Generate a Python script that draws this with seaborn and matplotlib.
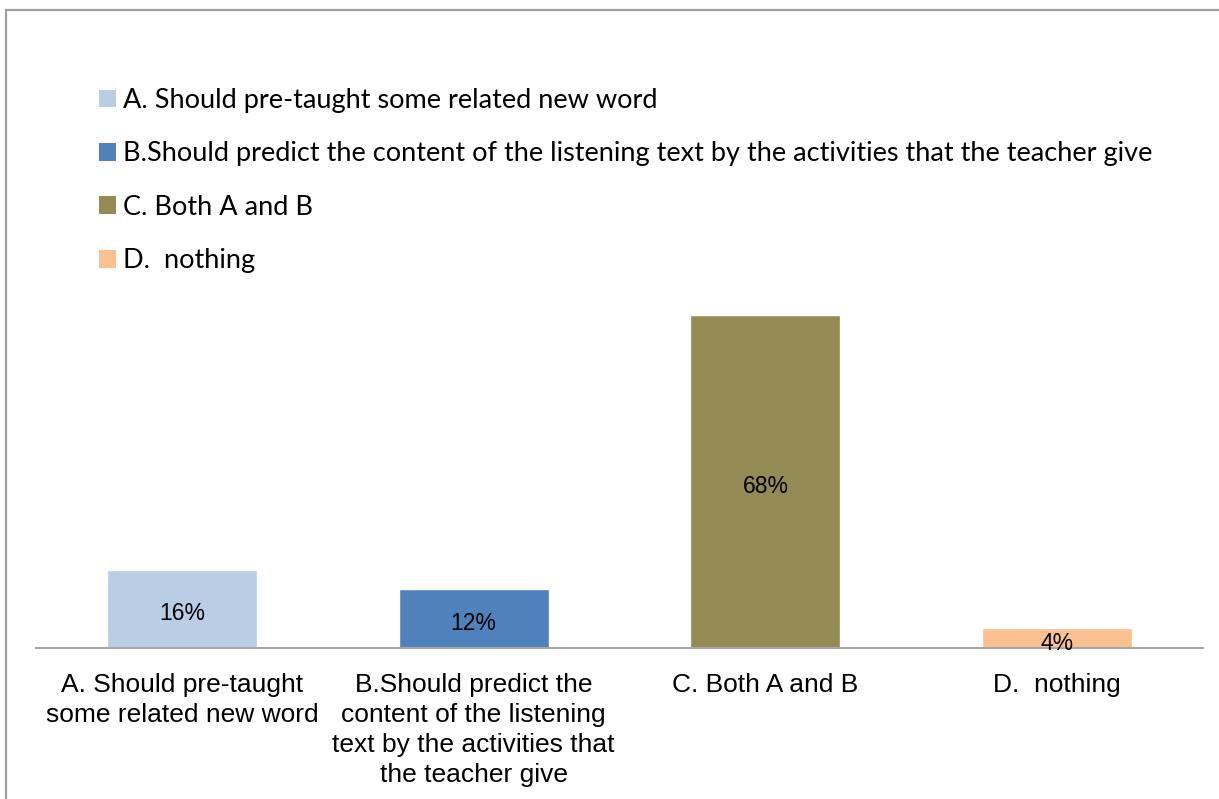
import matplotlib
matplotlib.use("Agg")
import matplotlib.pyplot as plt
from matplotlib.patches import Patch, Rectangle
import seaborn as sns

# Survey answers and their shares (%)
categories = [
    "A. Should pre-taught some related new word",
    "B.Should predict the content of the listening text by the activities that the teacher give",
    "C. Both A and B",
    "D.  nothing",
]
tick_labels = [
    "A. Should pre-taught\nsome related new word",
    "B.Should predict the\ncontent of the listening\ntext by the activities that\nthe teacher give",
    "C. Both A and B",
    "D.  nothing",
]
values = [16, 12, 68, 4]
value_labels = ["16%", "12%", "68%", "4%"]
colors = ["#B9CDE5", "#4F81BD", "#948A54", "#FAC090"]

sns.set_theme(style="white")
plt.rcParams["font.family"] = ["Liberation Sans", "DejaVu Sans"]
plt.rcParams["text.color"] = "black"
plt.rcParams["xtick.color"] = "black"

W, H = 1219, 799
fig = plt.figure(figsize=(W / 100, H / 100), dpi=100)

# axes placed in pixel terms: baseline at y=648, 68% bar top at y=315
base_px = 648
top_val = 70
px_per_unit = (648 - 315) / 68
ax_h = top_val * px_per_unit
ax = fig.add_axes([36 / W, (H - base_px) / H, (1203 - 36) / W, ax_h / H])

sns.barplot(x=categories, y=values, hue=categories, palette=colors,
            width=0.514, saturation=1, legend=False, ax=ax)
ax.set_xlim(-0.5, 3.5)
ax.set_ylim(0, top_val)

for cont, lab in zip(ax.containers, value_labels):
    anns = ax.bar_label(cont, labels=[lab], label_type="center",
                        fontsize=16.5, color="black")
    for a in anns:
        a.xyann = (0, -3.5)

ax.set_xticks(range(len(tick_labels)))
ax.set_xticklabels(tick_labels, fontsize=19, linespacing=1.31, color="black")
ax.tick_params(axis="x", length=0, pad=18)
ax.set_yticks([])
ax.set_xlabel("")
ax.set_ylabel("")
for side in ["top", "left", "right"]:
    ax.spines[side].set_visible(False)
ax.spines["bottom"].set_color("#A6A6A6")
ax.spines["bottom"].set_linewidth(1.5)
ax.patch.set_alpha(0)

# legend in the upper-left area
handles = [Patch(facecolor=c, edgecolor="none") for c in colors]
leg_fs = 19.5
fig.legend(handles, categories, loc="upper left",
           bbox_to_anchor=(99 / W, 1 - 88 / H), frameon=False,
           prop={"family": ["Lato", "DejaVu Sans"], "size": leg_fs},
           labelcolor="black",
           handlelength=0.63, handleheight=0.63, handletextpad=0.26,
           labelspacing=1.05, borderpad=0, borderaxespad=0)

# chart frame (top and left edges visible)
fig.add_artist(Rectangle((6 / W, -0.2), 1.2, (H - 10) / H + 0.2,
                         transform=fig.transFigure, fill=False,
                         edgecolor="#A0A0A0", linewidth=1.6))

fig.savefig("out.png", dpi=100, facecolor="white")
